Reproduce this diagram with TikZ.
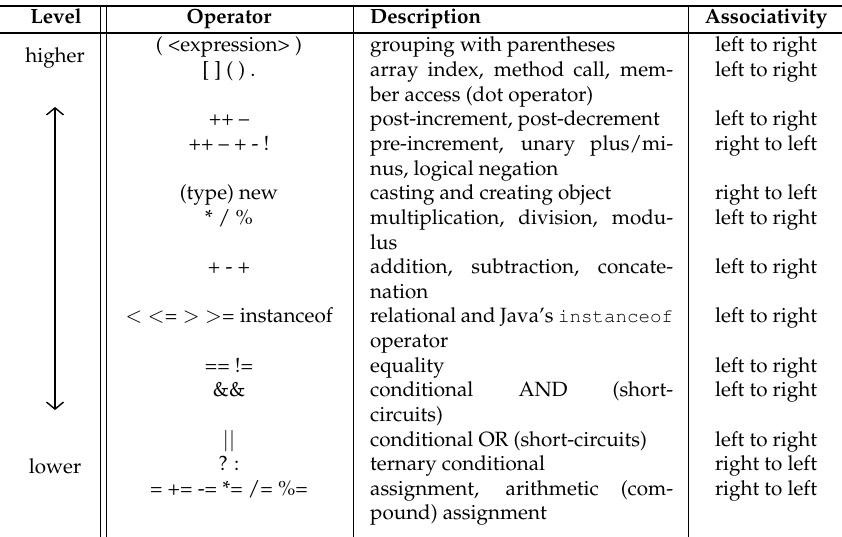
\documentclass[tikz,border=0pt]{standalone}
\usepackage[T1]{fontenc}
\usepackage{mathpazo}
\usepackage{courier}
\usetikzlibrary{arrows.meta}

% body text of the table
\newcommand{\tabfont}{\fontsize{20.6}{24.6}\selectfont}
% slightly smaller typewriter for code words
\newcommand{\code}[1]{{\fontsize{19.2}{24.6}\selectfont\texttt{#1}}}
% baseline of text line k
\newcommand{\rowy}[1]{{52+24.63*(#1)}}
% width of the justified description column
\newlength{\desccol}
\setlength{\desccol}{303pt}
\newcommand{\just}[1]{\makebox[\desccol][s]{#1}}

\tikzset{
  cell/.style={anchor=base, inner sep=0pt, font=\tabfont},
  desc/.style={anchor=base west, inner sep=0pt, font=\tabfont},
  head/.style={anchor=base, inner sep=0pt, font=\tabfont\bfseries},
  hrule/.style={line width=1.1pt},
  vrule/.style={line width=0.9pt},
  levelarrow/.style={line width=1.4pt, {Straight Barb[length=7pt,width=17pt]}-{Straight Barb[length=7pt,width=17pt]}}
}

\begin{document}
\begin{tikzpicture}[x=1pt,y=-1pt]
\useasboundingbox (0,0) rectangle (842,537);

% horizontal rules
\coordinate (tl) at (0,6);
\coordinate (tr) at (842,6);
\coordinate (hl) at (0,33);
\coordinate (hr) at (842,33);
\draw[hrule] (tl) -- (tr);
\draw[hrule] (hl) -- (hr);

% column separators
\foreach \x/\n in {100/a,106/b,353/c,688/d}{
  \coordinate (v\n top) at (\x,6);
  \coordinate (v\n bot) at (\x,537);
  \draw[vrule] (v\n top) -- (v\n bot);
}

% header
\node[head] (hlevel) at (56,24) {Level};
\node[head] (hop) at (229,24) {Operator};
\node[head, anchor=base west] (hdesc) at (370,24) {Description};
\node[head] (hassoc) at (766,24) {Associativity};

% level column
\node[cell] (higher) at (55,\rowy{0.42}) {higher};
\node[cell] (lower) at (55,\rowy{17.1}) {lower};
\coordinate (arrowtop) at (55,107);
\coordinate (arrowbot) at (55,410);
\draw[levelarrow] (arrowbot) -- (arrowtop);

% operator column
\node[cell] (op0) at (229,\rowy{0}) {( <expression> )};
\node[cell] (op1) at (229,\rowy{1}) {[ ] ( ) .};
\node[cell] (op3) at (229,\rowy{3}) {++ --};
\node[cell] (op4) at (229,\rowy{4}) {++ -- + - !};
\node[cell] (op6) at (229,\rowy{6}) {(type) new};
\node[cell] (op7) at (229,\rowy{7}) {* / \%};
\node[cell] (op9) at (229,\rowy{9}) {+ - +};
\node[cell] (op11) at (229,\rowy{11}) {$<$ $<$= $>$ $>$= instanceof};
\node[cell] (op13) at (229,\rowy{13}) {== !=};
\node[cell] (op14) at (229,\rowy{14}) {\&\&};
\node[cell] (op16) at (229,\rowy{16}) {$||$};
\node[cell] (op17) at (229,\rowy{17}) {? :};
\node[cell] (op18) at (229,\rowy{18}) {= += -= *= /= \%=};

% description column
\node[desc] (d0) at (370,\rowy{0}) {grouping with parentheses};
\node[desc] (d1) at (370,\rowy{1}) {\just{array index, method call, mem-}};
\node[desc] (d2) at (370,\rowy{2}) {ber access (dot operator)};
\node[desc] (d3) at (370,\rowy{3}) {post-increment, post-decrement};
\node[desc] (d4) at (370,\rowy{4}) {\just{pre-increment, unary plus/mi-}};
\node[desc] (d5) at (370,\rowy{5}) {nus, logical negation};
\node[desc] (d6) at (370,\rowy{6}) {casting and creating object};
\node[desc] (d7) at (370,\rowy{7}) {\just{multiplication, division, modu-}};
\node[desc] (d8) at (370,\rowy{8}) {lus};
\node[desc] (d9) at (370,\rowy{9}) {\just{addition, subtraction, concate-}};
\node[desc] (d10) at (370,\rowy{10}) {nation};
\node[desc] (d11) at (370,\rowy{11}) {\just{relational and Java's \code{instanceof}}};
\node[desc] (d12) at (370,\rowy{12}) {operator};
\node[desc] (d13) at (370,\rowy{13}) {equality};
\node[desc] (d14) at (370,\rowy{14}) {\just{conditional AND (short-}};
\node[desc] (d15) at (370,\rowy{15}) {circuits)};
\node[desc] (d16) at (370,\rowy{16}) {conditional OR (short-circuits)};
\node[desc] (d17) at (370,\rowy{17}) {ternary conditional};
\node[desc] (d18) at (370,\rowy{18}) {\just{assignment, arithmetic (com-}};
\node[desc] (d19) at (370,\rowy{19}) {pound) assignment};

% associativity column
\foreach \k/\t in {0/left to right,1/left to right,3/left to right,4/right to left,
                   6/right to left,7/left to right,9/left to right,11/left to right,
                   13/left to right,14/left to right,16/left to right,
                   17/right to left,18/right to left}{
  \node[cell] (a\k) at (766,\rowy{\k}) {\t};
}
\end{tikzpicture}
\end{document}
